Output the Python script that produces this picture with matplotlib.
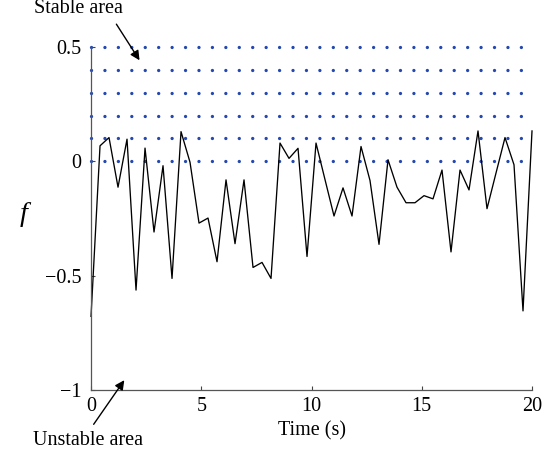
import numpy as np
import matplotlib
matplotlib.use('Agg')
import matplotlib.pyplot as plt

# data
time_s = np.linspace(0, 20, 50)
f_values = [-0.678, 0.068, 0.104, -0.113, 0.097, -0.563, 0.058, -0.309, -0.019, -0.512,
            0.130, -0.004, -0.270, -0.248, -0.439, -0.081, -0.360, -0.081, -0.464, -0.442,
            -0.512, 0.080, 0.013, 0.057, -0.416, 0.080, -0.080, -0.239, -0.116, -0.239,
            0.065, -0.084, -0.363, 0.007, -0.113, -0.181, -0.181, -0.150, -0.164, -0.038,
            -0.396, -0.038, -0.125, 0.133, -0.207, -0.051, 0.104, -0.015, -0.654, 0.133]
stable_levels = [0, 0.1, 0.2, 0.3, 0.4, 0.5]
x_ticks = [0, 5, 10, 15, 20]
y_ticks = [-1, -0.5, 0, 0.5]

plt.rcParams['font.family'] = ['Liberation Serif', 'DejaVu Serif']
fs = 14.5

fig = plt.figure(figsize=(5.54, 4.57), dpi=100)
ax = fig.add_axes([0.1643, 0.1466, 0.796, 0.7505])

# dotted "stable" levels
for lv in stable_levels:
    ax.plot([0, 20], [lv, lv], color='#2448b0', lw=2.4,
            linestyle=(0, (0.01, 4.02)), dash_capstyle='round', clip_on=False)

# f(t)
ax.plot(time_s, f_values, color='black', lw=0.95, clip_on=False)

ax.set_xlim(0, 20)
ax.set_ylim(-1, 0.5)
ax.set_xticks(x_ticks)
ax.set_yticks(y_ticks)
ax.set_yticklabels(['\u22121', '\u22120.5', '0', '0.5'])

for side in ['top', 'right']:
    ax.spines[side].set_visible(False)
for side in ['left', 'bottom']:
    ax.spines[side].set_color('#555555')
    ax.spines[side].set_linewidth(0.9)

ax.tick_params(axis='both', direction='in', length=3, width=0.8, color='#444444',
               labelsize=fs)
ax.tick_params(axis='x', pad=5)
ax.tick_params(axis='y', pad=7)

ax.set_xlabel('Time (s)', fontsize=fs, labelpad=4)
ax.text(-0.154, 0.513, 'f', transform=ax.transAxes, fontsize=fs + 6,
        style='italic', ha='center', va='center')

# annotations
ax.text(-0.58, 0.667, 'Stable area', fontsize=fs, ha='center', va='center', clip_on=False)
ax.annotate('', xy=(2.2, 0.442), xytext=(1.15, 0.6), annotation_clip=False,
            arrowprops=dict(arrowstyle='-|>', color='black', lw=1.0,
                            mutation_scale=14, shrinkA=0, shrinkB=0))
ax.text(-0.145, -1.22, 'Unstable area', fontsize=fs, ha='center', va='center', clip_on=False)
ax.annotate('', xy=(1.51, -0.957), xytext=(0.12, -1.15), annotation_clip=False,
            arrowprops=dict(arrowstyle='-|>', color='black', lw=1.0,
                            mutation_scale=14, shrinkA=0, shrinkB=0))

plt.savefig('out.png', dpi=100)
plt.close()
